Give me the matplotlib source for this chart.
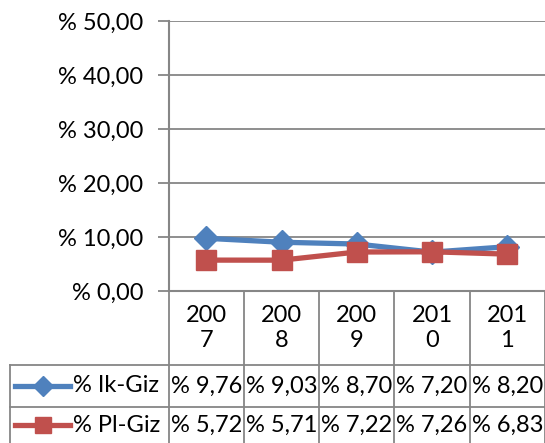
import matplotlib
matplotlib.use("Agg")
import matplotlib.pyplot as plt
from matplotlib.lines import Line2D
import matplotlib.transforms as mtransforms

years = [2007, 2008, 2009, 2010, 2011]
series_names = ["% Ik-Giz", "% Pl-Giz"]
ik_giz = [9.76, 9.03, 8.70, 7.20, 8.20]
pl_giz = [5.72, 5.71, 7.22, 7.26, 6.83]
y_ticks = [0, 10, 20, 30, 40, 50]

colors = ["#4F81BD", "#C0504D"]
markers = ["D", "s"]
msizes = [12, 14]
grid_c = "#868686"
FONT = "Lato"
FS = 17

W, H = 545, 443
fig = plt.figure(figsize=(W / 100, H / 100), dpi=100)
left_px, right_px, top_px, bot_px = 168.6, 545, 21, 291
ax = fig.add_axes([left_px / W, 1 - bot_px / H, (right_px - left_px) / W, (bot_px - top_px) / H])

def fmt(v):
    return "% " + f"{v:.2f}".replace(".", ",")

x = list(range(len(years)))
for vals, c, m, ms in zip([ik_giz, pl_giz], colors, markers, msizes):
    ax.plot(x, vals, color=c, lw=3.8, marker=m, markersize=ms, zorder=3, solid_joinstyle="round")

ax.set_xlim(-0.5, len(years) - 0.5)
ax.set_ylim(0, 50)
ax.set_yticks(y_ticks)
ax.set_yticklabels([fmt(v) for v in y_ticks], fontfamily=FONT, fontsize=FS)
ax.tick_params(axis="y", length=8, width=1.3, color=grid_c, pad=10)
ax.set_xticks([])
for s in ["top", "right", "bottom"]:
    ax.spines[s].set_visible(False)
ax.spines["left"].set_color(grid_c)
ax.spines["left"].set_linewidth(1.5)
ax.grid(axis="y", color=grid_c, lw=1.3)
ax.set_axisbelow(True)

# data table
axh = bot_px - top_px
axw = right_px - left_px
def ay(py):
    return (bot_px - py) / axh
def ax_x(px):
    return (px - left_px) / axw

blend = mtransforms.blended_transform_factory(ax.transData, ax.transAxes)
row_header_bot = ay(365)
row1_bot = ay(407)
row2_bot = ay(450)
legend_left = ax_x(10)

# horizontal lines
ax.plot([0, 1], [0, 0], transform=ax.transAxes, color=grid_c, lw=1.5, clip_on=False)
for yy in [row_header_bot, row1_bot]:
    ax.plot([legend_left, 1], [yy, yy], transform=ax.transAxes, color=grid_c, lw=1.3, clip_on=False)
# vertical lines
for i in range(len(years) + 1):
    ax.plot([i - 0.5, i - 0.5], [0, row2_bot], transform=blend, color=grid_c, lw=1.3, clip_on=False)
ax.plot([legend_left, legend_left], [row_header_bot, row2_bot], transform=ax.transAxes, color=grid_c, lw=1.3, clip_on=False)

# header text
for i, yv in enumerate(years):
    s = str(yv)
    ax.text(i, ay(328), s[:3] + "\n" + s[3:], transform=blend, ha="center", va="center",
            fontfamily=FONT, fontsize=FS, linespacing=1.2, clip_on=False)

row_centers = [ay(386), ay(425)]
for r, vals in enumerate([ik_giz, pl_giz]):
    for i, v in enumerate(vals):
        ax.text(i, row_centers[r], fmt(v), transform=blend, ha="center", va="center",
                fontfamily=FONT, fontsize=FS, clip_on=False)
    # legend key
    ax.add_line(Line2D([ax_x(15), ax_x(70)], [row_centers[r], row_centers[r]], transform=ax.transAxes,
                       color=colors[r], lw=3.8, clip_on=False))
    ax.add_line(Line2D([ax_x(42.5)], [row_centers[r]], transform=ax.transAxes, color=colors[r],
                       marker=markers[r], markersize=msizes[r] - 2, clip_on=False))
    ax.text(ax_x(73), row_centers[r], series_names[r], transform=ax.transAxes, ha="left", va="center",
            fontfamily=FONT, fontsize=FS, clip_on=False)

fig.savefig("out.png", dpi=100)
